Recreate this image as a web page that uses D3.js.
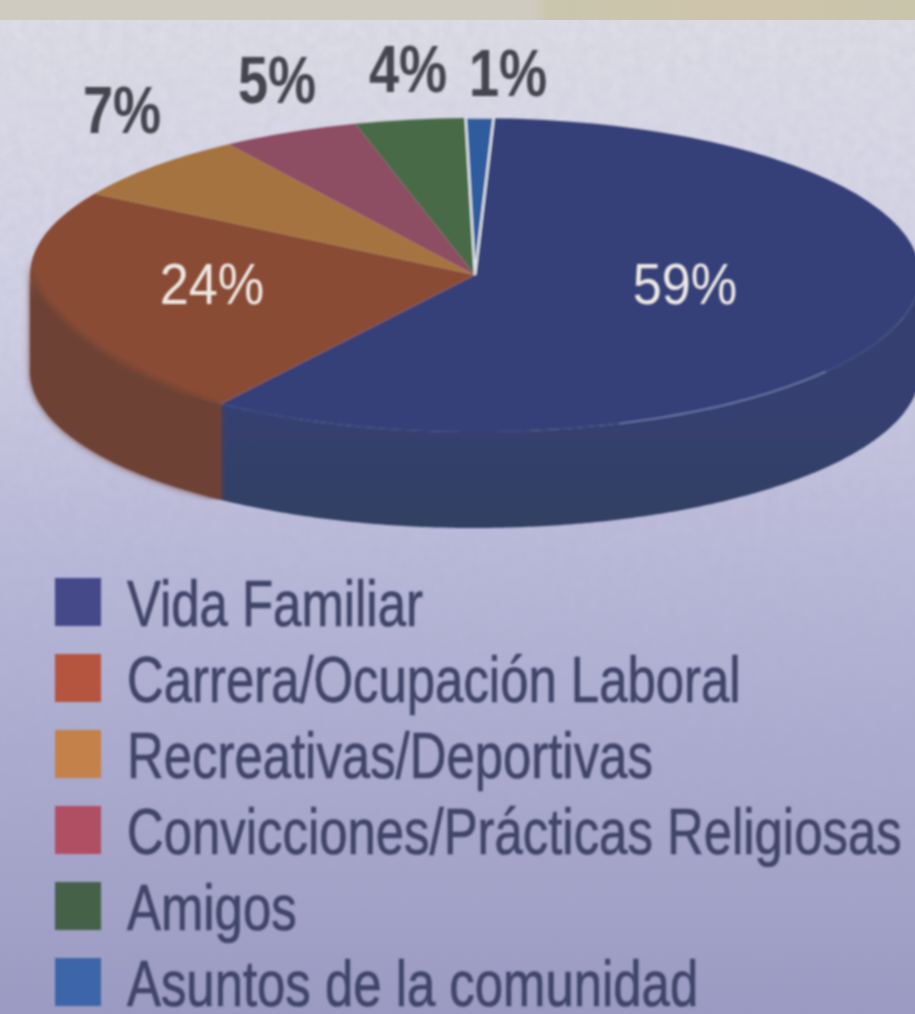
<!DOCTYPE html>
<html>
<head>
    <meta charset="utf-8">
    <script src="https://d3js.org/d3.v7.min.js"></script>
    <style>
        html, body { margin: 0; padding: 0; overflow: hidden; background: #cfcfe2; }
        text { font-family: "Liberation Sans", sans-serif; }
    </style>
</head>
<body>
    <script>
        // 数据
        const categories = ["Vida Familiar", "Carrera/Ocupación Laboral", "Recreativas/Deportivas",
            "Convicciones/Prácticas Religiosas", "Amigos", "Asuntos de la comunidad"];
        const values = [59, 24, 7, 5, 4, 1];
        const topColors = ["#354079", "#8a4c36", "url(#orange)", "#8d4e62", "#4a6a46", "#2f5c9e"];
        const wallColors = ["url(#blueWall)", "#6d4236", "#6d4236", "#6d4236", "#6d4236", "#6d4236"];
        const legendColors = ["#45498a", "#b5543f", "#c4814a", "#b04f64", "#44624a", "#3d66a8"];

        const width = 915, height = 1014;
        const cx = 475, cy = 275, rx = 445, ry = 157, depth = 96;
        const rad = Math.PI / 180;

        const svg = d3.select("body").append("svg")
            .attr("width", width)
            .attr("height", height)
            .style("display", "block");

        const defs = svg.append("defs");

        // 渐变
        const addGradient = (id, stops, attrs) => {
            const g = defs.append("linearGradient").attr("id", id);
            Object.entries(attrs).forEach(([k, v]) => g.attr(k, v));
            stops.forEach(s => g.append("stop").attr("offset", s[0]).attr("stop-color", s[1]));
        };
        addGradient("bg", [[0, "#dddde6"], [0.3, "#d0d0e4"], [0.55, "#b8b8d8"], [1, "#9b9ac3"]],
            { x1: 0, y1: 0, x2: 0, y2: 1 });
        addGradient("strip", [[0, "#cfcbc0"], [0.58, "#cfcbc0"], [0.6, "#c9c6ad"], [0.82, "#cfc4ab"], [1, "#c8c5ab"]],
            { x1: 0, y1: 0, x2: 1, y2: 0 });
        addGradient("orange", [[0, "#a5733f"], [0.55, "#9c6a3e"], [1, "#8c5638"]],
            { gradientUnits: "userSpaceOnUse", x1: 150, y1: 160, x2: 440, y2: 260 });
        addGradient("blueWall", [[0, "#34406f"], [1, "#333f62"]],
            { gradientUnits: "userSpaceOnUse", x1: 0, y1: 420, x2: 0, y2: 530 });

        // 扫描噪点
        const grain = defs.append("filter").attr("id", "grain")
            .attr("x", 0).attr("y", 0).attr("width", 1).attr("height", 1);
        grain.append("feTurbulence").attr("type", "fractalNoise")
            .attr("baseFrequency", 0.09).attr("numOctaves", 2).attr("seed", 4);
        grain.append("feColorMatrix").attr("values", "0 0 0 0 0.35  0 0 0 0 0.35  0 0 0 0 0.5  0 0 0 0.35 -0.1");

        const soft = defs.append("filter").attr("id", "soft");
        soft.append("feGaussianBlur").attr("stdDeviation", 1.1);

        const softMore = defs.append("filter").attr("id", "softMore")
            .attr("x", "-10%").attr("y", "-10%").attr("width", "120%").attr("height", "120%");
        softMore.append("feGaussianBlur").attr("stdDeviation", 3);

        svg.append("rect").attr("width", width).attr("height", height).attr("fill", "url(#bg)");
        svg.append("rect").attr("width", width).attr("height", height).attr("filter", "url(#grain)").attr("opacity", 0.5);
        svg.append("rect").attr("width", width).attr("height", 20).attr("fill", "url(#strip)");

        // 扇形角度,从顶部偏右一点开始
        const startAngle = 2.4 * rad;
        const pie = d3.pie().sort(null).startAngle(startAngle).endAngle(startAngle + 2 * Math.PI);
        const slices = pie(values);

        const chart = svg.append("g").attr("filter", "url(#soft)");

        const ellipsePoint = (a, dy) => [cx + rx * Math.sin(a), cy - ry * Math.cos(a) + dy];
        const line = d3.line();

        // 侧面路径,topShift 让上沿随角度上移
        const wallPath = (s, topShift) => {
            const a0 = Math.max(s.startAngle, Math.PI / 2);
            const a1 = Math.min(s.endAngle, 3 * Math.PI / 2);
            if (a1 <= a0) return null;
            const angles = d3.range(a0, a1, 0.01).concat([a1]);
            const pts = angles.map(a => ellipsePoint(a, topShift(a)))
                .concat(angles.slice().reverse().map(a => ellipsePoint(a, depth)));
            return line(pts) + "Z";
        };

        chart.append("g").selectAll("path")
            .data(slices.filter(s => wallPath(s, () => 0)))
            .join("path")
            .attr("d", d => wallPath(d, () => 0))
            .attr("fill", d => wallColors[d.index]);

        // 顶面
        const arc = d3.arc().innerRadius(0).outerRadius(rx);
        const face = chart.append("g")
            .attr("transform", `translate(${cx},${cy}) scale(1,${ry / rx})`);
        face.selectAll("path")
            .data(slices)
            .join("path")
            .attr("d", arc)
            .attr("fill", (d, i) => topColors[i])
            .attr("stroke", (d, i) => i === 5 ? "#dfe4ea" : "none")
            .attr("stroke-width", 2.5);

        // 棕色侧面的上沿偏高且发虚
        const brownShift = d3.scaleLinear().domain([215 * rad, 250 * rad]).range([0, -18]).clamp(true);
        chart.append("path")
            .attr("d", wallPath(slices[1], brownShift))
            .attr("fill", wallColors[1])
            .attr("filter", "url(#softMore)")
            .attr("clip-path", "url(#brownClip)");
        defs.append("clipPath").attr("id", "brownClip")
            .append("rect").attr("x", 20).attr("y", 200).attr("width", 205).attr("height", 300);

        // 59% 扇形上的细高光
        const highlight = d3.range(128, 162, 1).map(deg => ellipsePoint(deg * rad, 0));
        chart.append("path")
            .attr("d", line(highlight))
            .attr("fill", "none")
            .attr("stroke", "#6f79a8")
            .attr("stroke-width", 1.6);

        // 百分比标签
        const outerLabels = [2, 3, 4, 5];
        const outerX = d3.scaleOrdinal().domain(outerLabels).range([122, 277, 408, 508]);
        const outerY = d3.scaleOrdinal().domain(outerLabels).range([133, 103, 92, 96]);
        svg.append("g").attr("filter", "url(#soft)")
            .selectAll("text")
            .data(outerLabels)
            .join("text")
            .attr("transform", d => `translate(${outerX(d)},${outerY(d)}) scale(0.82,1)`)
            .attr("text-anchor", "middle")
            .attr("font-size", 66)
            .attr("font-weight", "bold")
            .attr("fill", "#45454f")
            .text(d => values[d] + "%");

        const innerLabels = [0, 1];
        const innerX = d3.scaleOrdinal().domain(innerLabels).range([685, 212]);
        svg.append("g").attr("filter", "url(#soft)")
            .selectAll("text")
            .data(innerLabels)
            .join("text")
            .attr("transform", d => `translate(${innerX(d)},304) scale(0.9,1)`)
            .attr("text-anchor", "middle")
            .attr("font-size", 58)
            .attr("fill", "#eee8e4")
            .text(d => values[d] + "%");

        // 图例
        const legendY = d3.scalePoint().domain(categories).range([602, 982]);
        const legend = svg.append("g").attr("filter", "url(#soft)")
            .selectAll("g")
            .data(categories)
            .join("g")
            .attr("transform", d => `translate(0,${legendY(d)})`);
        legend.append("rect")
            .attr("x", 55).attr("y", -24)
            .attr("width", 46).attr("height", 48)
            .attr("fill", (d, i) => legendColors[i]);
        legend.append("text")
            .attr("transform", "translate(127,24) scale(0.795,1)")
            .attr("font-size", 64)
            .attr("fill", "#3f4468")
            .attr("stroke", "#3f4468")
            .attr("stroke-width", 0.7)
            .text(d => d);
    </script>
</body>
</html>
